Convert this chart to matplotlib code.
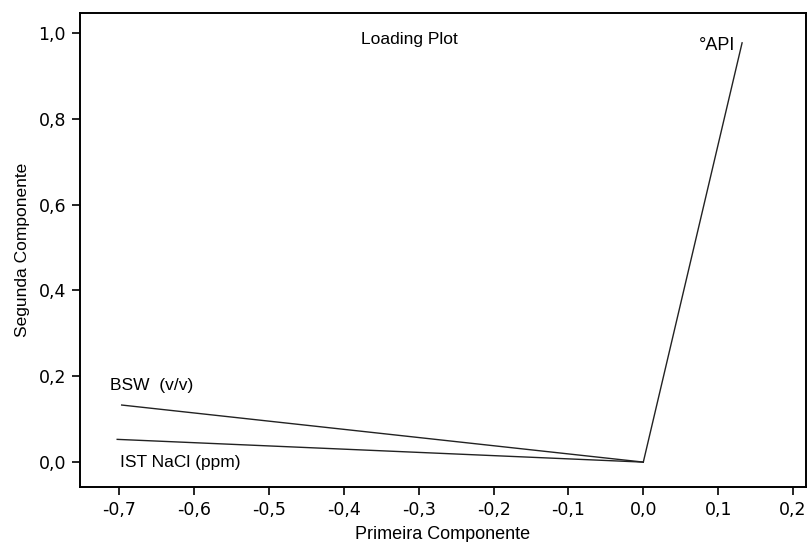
import matplotlib
matplotlib.use("Agg")
import matplotlib.pyplot as plt
from matplotlib.ticker import FuncFormatter

variables = ["°API", "BSW  (v/v)", "IST NaCl (ppm)"]
pc1 = [0.132, -0.697, -0.703]
pc2 = [0.977, 0.133, 0.053]
xticks = [-0.7, -0.6, -0.5, -0.4, -0.3, -0.2, -0.1, 0.0, 0.1, 0.2]
yticks = [0.0, 0.2, 0.4, 0.6, 0.8, 1.0]

fig = plt.figure(figsize=(8.09, 5.42), dpi=100)
ax = fig.add_axes([80/809, 55/542, 726/809, 474/542])

for x, y in zip(pc1, pc2):
    ax.plot([0, x], [0, y], color="#222222", lw=1.0)

lab = "Liberation Sans"
ax.text(0.123, 0.97, "°API", family=lab, fontsize=13, ha="right", va="center")
ax.text(-0.713, 0.178, "BSW  (v/v)", family=lab, fontsize=12.5, ha="left", va="center")
ax.text(-0.699, 0.0, "IST NaCl (ppm)", family=lab, fontsize=12.5, ha="left", va="center")
ax.text(-0.313, 0.985, "Loading Plot", family=lab, fontsize=12.5, ha="center", va="center")

ax.set_xlim(-0.7527, 0.2174)
ax.set_ylim(-0.058, 1.0465)
ax.set_xticks(xticks)
ax.set_yticks(yticks)
fmt = FuncFormatter(lambda v, p: f"{v:.1f}".replace(".", ",").replace("-0,0", "0,0"))
ax.xaxis.set_major_formatter(fmt)
ax.yaxis.set_major_formatter(fmt)
ax.tick_params(direction="out", length=6, width=1.2, labelsize=12.5, pad=4)
for s in ax.spines.values():
    s.set_linewidth(1.4)

ax.set_xlabel("Primeira Componente", family=lab, fontsize=13, labelpad=5)
ax.set_ylabel("Segunda Componente", family=lab, fontsize=12.5, labelpad=6)

fig.savefig("out.png", dpi=100)
